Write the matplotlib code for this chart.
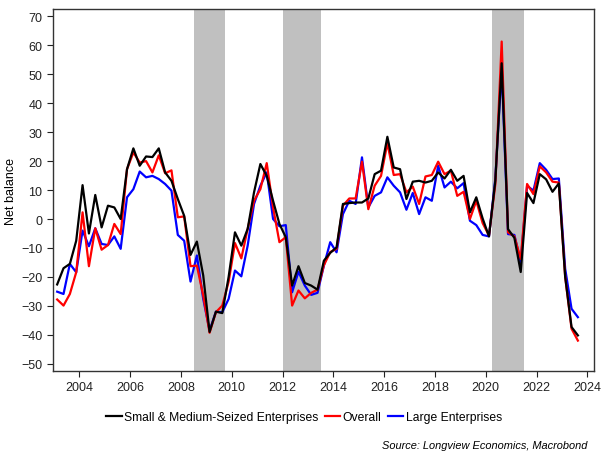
import matplotlib
matplotlib.use("Agg")
import matplotlib.pyplot as plt
import numpy as np

plt.rcParams["font.family"] = ["Liberation Sans", "DejaVu Sans"]

# quarterly, 2003Q1 .. 2023Q3
start_year = 2003
sme = [-22.6, -17.0, -15.5, -7.5, 11.7, -5.0, 8.3, -2.9, 4.6, 4.0, 0.0, 17.2,
       24.4, 18.4, 21.6, 21.4, 24.4, 16.1, 13.2, 6.9, 1.1, -12.4, -7.8, -19.5,
       -39.0, -32.0, -32.5, -20.0, -4.6, -9.2, -3.4, 9.2, 19.0, 14.9, 6.3, -1.7,
       -6.3, -23.0, -16.3, -22.1, -23.0, -24.4, -14.4, -11.7, -9.8, 5.2, 5.5, 5.7,
       5.7, 7.1, 15.5, 16.7, 28.4, 17.8, 17.2, 6.9, 12.9, 13.2, 12.6, 13.2,
       16.1, 14.0, 17.0, 13.2, 14.9, 2.3, 7.5, 0.2, -6.0, 13.2, 53.8, -3.5,
       -6.5, -18.3, 9.0, 5.5, 15.5, 13.7, 9.4, 12.3, -20.0, -37.3, -40.2]
overall = [-27.8, -29.9, -25.9, -18.4, 2.3, -16.3, -3.2, -10.6, -9.0, -1.7, -5.2, 17.2,
           23.0, 19.5, 20.0, 16.1, 22.0, 15.8, 16.8, 0.6, 0.9, -16.3, -16.1, -26.4,
           -39.3, -32.2, -29.9, -21.7, -8.3, -13.6, -3.4, 6.3, 10.3, 19.3, 4.0, -8.0,
           -6.3, -29.9, -24.7, -27.4, -25.5, -24.4, -16.0, -11.4, -10.3, 4.6, 7.1, 7.1,
           19.8, 3.4, 11.5, 14.9, 26.2, 15.2, 15.5, 9.2, 11.2, 5.2, 14.7, 15.2,
           19.8, 15.5, 16.7, 8.0, 9.4, 0.0, 6.3, -1.4, -5.7, 12.0, 61.3, -4.6,
           -6.0, -13.8, 12.1, 8.6, 18.2, 16.1, 12.9, 12.6, -20.0, -37.9, -42.0]
large = [-25.1, -25.9, -15.5, -18.4, -4.0, -9.4, -3.2, -8.6, -9.0, -6.0, -10.3, 7.5,
         10.3, 16.4, 14.4, 14.9, 13.8, 12.1, 9.8, -5.5, -7.5, -21.6, -12.6, -27.6,
         -38.5, -32.0, -32.2, -27.6, -17.8, -19.8, -9.2, 5.2, 11.5, 16.1, 0.0, -2.5,
         -2.1, -25.3, -18.2, -23.0, -26.2, -25.5, -16.1, -8.0, -11.5, 1.7, 6.3, 5.2,
         21.3, 4.0, 8.0, 9.2, 14.4, 11.5, 9.2, 3.2, 9.0, 1.7, 7.5, 6.3,
         18.4, 10.9, 12.9, 10.6, 12.4, -0.6, -2.1, -5.5, -6.0, 14.0, 52.0, -5.2,
         -5.5, -14.9, 11.5, 9.8, 19.3, 17.0, 13.8, 14.0, -17.2, -31.0, -33.9]

# shaded periods (start, end) in decimal years
shade_periods = [(2008.5, 2009.75), (2012.0, 2013.5), (2020.25, 2021.5)]
year_ticks = list(range(2004, 2025, 2))
value_ticks = list(range(-50, 71, 10))

x = start_year + (np.arange(len(sme)) + 0.5) / 4

fig = plt.figure(figsize=(6.11, 4.60), dpi=100)
ax = fig.add_axes([0.0867, 0.1913, 0.8855, 0.7867])

for s, e in shade_periods:
    ax.axvspan(s, e, color="#c0c0c0", lw=0, zorder=0)

ax.plot(x, large, color="#0000ff", lw=1.6, label="Large Enterprises", zorder=2)
ax.plot(x, overall, color="#ff0000", lw=1.6, label="Overall", zorder=3)
ax.plot(x, sme, color="black", lw=1.6, label="Small & Medium-Seized Enterprises", zorder=4)

ax.set_xlim(2002.96, 2024.26)
ax.set_ylim(-52.5, 72.5)
ax.set_xticks(year_ticks)
ax.set_yticks(value_ticks)
ax.tick_params(labelsize=9, length=4, width=0.8, colors="#222222", direction="out")
ax.set_ylabel("Net balance", fontsize=9, labelpad=3)
for sp in ax.spines.values():
    sp.set_linewidth(1.0)
    sp.set_color("#333333")

h, l = ax.get_legend_handles_labels()
fig.legend(h[::-1], l[::-1], loc="center", bbox_to_anchor=(304 / 611, 1 - 418 / 460),
           ncol=3, frameon=False, fontsize=8.7, handlelength=1.3, handletextpad=0.2,
           columnspacing=0.5)
fig.text(587 / 611, 1 - 446 / 460, "Source: Longview Economics, Macrobond",
         ha="right", va="center", fontsize=7.9, style="italic")

fig.savefig("out.png", dpi=100)
